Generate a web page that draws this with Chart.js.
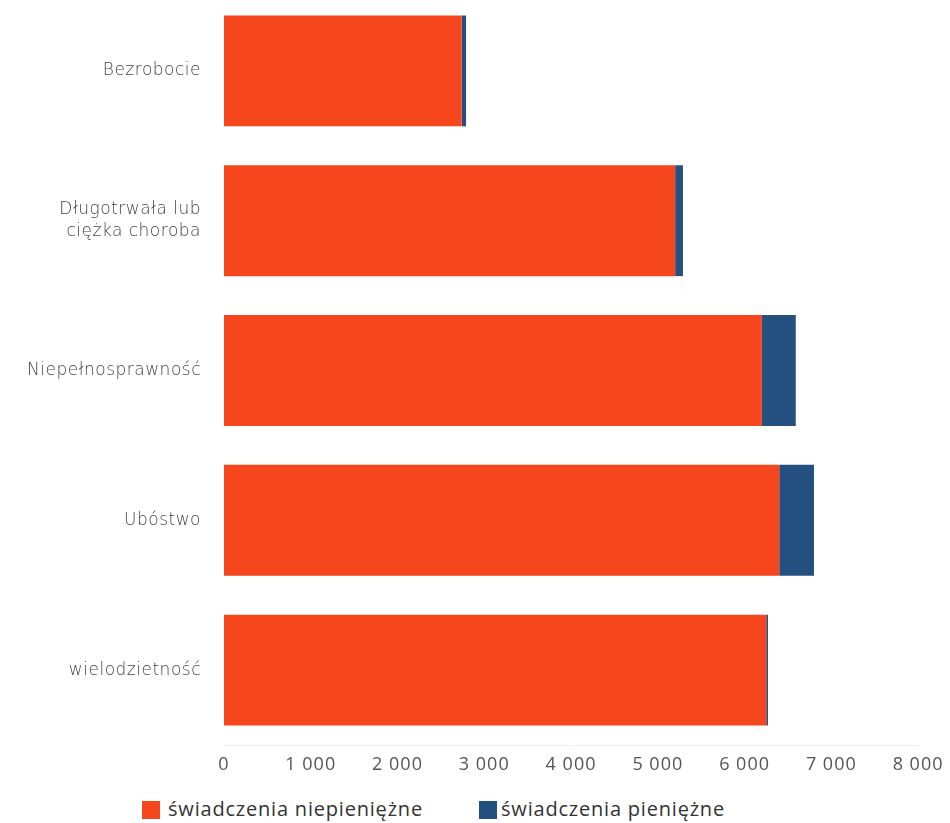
<!DOCTYPE html>
<html>
<head>
<meta charset="utf-8">
<script src="https://cdn.jsdelivr.net/npm/chart.js@4"></script>
<style>
    html, body { margin: 0; padding: 0; background: #fff; }
    #wrap { position: relative; width: 950px; height: 823px; overflow: hidden; }
    #chart-box { position: absolute; left: 0; top: -4px; width: 950px; height: 790px; }
    #legend span.sw { position: absolute; top: 801px; width: 18px; height: 18px; }
    #legend span.txt { position: absolute; top: 796px; font-family: 'Open Sans', sans-serif; font-size: 20px;
                       letter-spacing: 0.8px; color: #333; line-height: 26px; white-space: nowrap; }
</style>
</head>
<body>
<div id="wrap">
    <div id="chart-box"><canvas id="benefits-chart"></canvas></div>
    <div id="legend"></div>
</div>
<script>
// categories and series
const categories = ['Bezrobocie', ['Długotrwała lub', 'ciężka choroba'], 'Niepełnosprawność', 'Ubóstwo', 'wielodzietność'];
const seriesNames = ['świadczenia niepieniężne', 'świadczenia pieniężne'];
const niepieniezne = [2740, 5200, 6200, 6400, 6250];
const pieniezne = [50, 90, 390, 400, 20];
const xTicks = [0, 1000, 2000, 3000, 4000, 5000, 6000, 7000, 8000];
const colors = ['#f6461e', '#24507f'];

function fmt(v) {
    return String(v).replace(/\B(?=(\d{3})+(?!\d))/g, ' ');
}

// a little extra spacing for the category labels and the numbers
const spacingPlugin = {
    id: 'spacing',
    beforeDraw(chart) { chart.ctx.letterSpacing = '0.5px'; },
    afterDatasetsDraw(chart) { chart.ctx.letterSpacing = '1px'; },
    afterDraw(chart) { chart.ctx.letterSpacing = '0px'; }
};

document.addEventListener('DOMContentLoaded', function() {
    const ctx = document.getElementById('benefits-chart');

    new Chart(ctx, {
        type: 'bar',
        data: {
            labels: categories,
            datasets: [{
                label: seriesNames[0],
                data: niepieniezne,
                backgroundColor: colors[0]
            }, {
                label: seriesNames[1],
                data: pieniezne,
                backgroundColor: colors[1]
            }]
        },
        options: {
            indexAxis: 'y',
            responsive: true,
            maintainAspectRatio: false,
            animation: false,
            layout: { padding: { right: 28, top: 0, bottom: 0 } },
            datasets: {
                bar: { categoryPercentage: 0.74, barPercentage: 1 }
            },
            scales: {
                x: {
                    stacked: true,
                    min: 0,
                    max: 8000,
                    afterBuildTicks: function(axis) {
                        axis.ticks = xTicks.map(v => ({ value: v }));
                    },
                    afterFit: function(axis) { axis.height = 41; },
                    grid: { display: false, drawTicks: false },
                    border: { display: true, color: '#eeeeee' },
                    ticks: {
                        z: 1,
                        padding: 9,
                        color: '#555',
                        font: { family: 'Open Sans', size: 18 },
                        callback: v => fmt(v)
                    }
                },
                y: {
                    stacked: true,
                    afterFit: function(axis) {
                        axis.width = 224;
                        axis.paddingTop = 0;
                        axis.paddingBottom = 0;
                    },
                    grid: { display: false, drawTicks: false },
                    border: { display: false },
                    ticks: {
                        padding: 23,
                        color: '#444',
                        font: { family: 'DejaVu Sans', size: 17, weight: 200, lineHeight: 1.3 }
                    }
                }
            },
            plugins: {
                legend: { display: false },
                tooltip: { enabled: false }
            }
        },
        plugins: [spacingPlugin]
    });

    // legend below the axis
    const legend = document.getElementById('legend');
    const swLeft = [142, 479];
    const txtLeft = [168, 501];
    seriesNames.forEach(function(name, i) {
        const sw = document.createElement('span');
        sw.className = 'sw';
        sw.style.left = swLeft[i] + 'px';
        sw.style.background = colors[i];
        legend.appendChild(sw);
        const txt = document.createElement('span');
        txt.className = 'txt';
        txt.style.left = txtLeft[i] + 'px';
        txt.textContent = name;
        legend.appendChild(txt);
    });
});
</script>
</body>
</html>
